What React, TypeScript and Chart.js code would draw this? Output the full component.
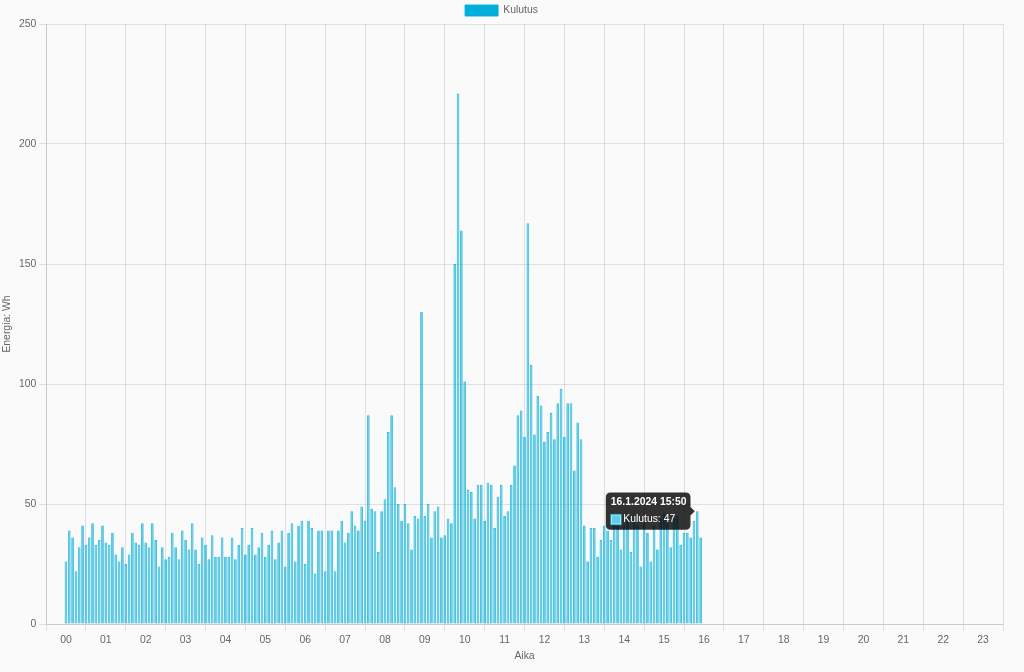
import React, { useEffect, useRef } from 'react';
import { Chart, registerables } from 'chart.js';

Chart.register(...registerables);

// ---- Data ----
const DATE_LABEL = '16.1.2024';
const SERIES_LABEL = 'Kulutus';
const Y_TITLE = 'Energia: Wh';
const X_TITLE = 'Aika';
const STEP_MINUTES = 5;
const ACTIVE_INDEX = 190; // 15:50

const hourLabels = [
  '00', '01', '02', '03', '04', '05', '06', '07', '08', '09', '10', '11',
  '12', '13', '14', '15', '16', '17', '18', '19', '20', '21', '22', '23',
];

// 5-minute consumption values (Wh) from 00:00 to 15:55
const hours00to03 = [
  26, 39, 36, 22, 32, 41, 33, 36, 42, 33, 35, 41, 34, 33, 38, 29, 26, 32, 25, 29, 38, 34,
  33, 42, 34, 32, 42, 35, 24, 32, 27, 28, 38, 32, 27, 39, 35, 31, 42, 31, 25, 36, 33,
];
const hours03to07 = [
  27, 37, 28, 28, 36, 28, 28, 36, 27, 33, 40, 29, 33, 40, 29, 32, 38, 28, 33, 39, 27,
  34, 39, 24, 38, 42, 26, 41, 43, 25, 43, 40, 21, 39, 39, 22, 39, 39, 22, 39, 43, 34,
];
const hours07to09 = [
  38, 47, 41, 39, 49, 43, 87, 48, 47, 30, 47, 52, 80, 87, 57, 50, 43, 50, 42, 31, 45, 44,
  130, 45, 50, 36, 47,
];
const hours09to10 = [49, 36, 37, 44, 42, 150, 221, 164, 101, 56, 55, 44, 58];
const hours10to13 = [
  58, 43, 59, 58, 40, 53, 58, 45, 47, 58, 66, 87, 89, 78, 167, 108, 79, 95, 91, 76, 80,
  88, 77, 92, 98, 78, 92, 92, 64, 84, 77, 41, 26, 40, 40, 28, 35,
];
const hours13to16 = [
  41, 39, 35, 44, 41, 31, 41, 45, 30, 44, 41, 24, 42, 38, 26, 41, 31, 44, 46, 42, 32, 44,
  45, 33, 38, 38, 36, 43, 47, 36,
];

const kulutus = [
  ...hours00to03, ...hours03to07, ...hours07to09, ...hours09to10, ...hours10to13, ...hours13to16,
];

const Y_MIN = 0;
const Y_MAX = 250;
const Y_STEP = 50;

// ---- Style ----
const FS = 10.4;
const TEXT = '#666';
const BAR_FILL = 'rgba(0, 174, 217, 0.62)';
const BAR_BORDER = 'rgba(0, 174, 217, 0.8)';
const LEGEND_FILL = '#00aedb';
const GRID = 'rgba(0,0,0,0.1)';

const pad2 = (n: number) => String(n).padStart(2, '0');
const timeLabel = (i: number) => {
  const m = i * STEP_MINUTES;
  return `${pad2(Math.floor(m / 60))}:${pad2(m % 60)}`;
};

export default function App() {
  const ref = useRef<HTMLCanvasElement | null>(null);

  useEffect(() => {
    document.body.style.margin = '0';
    document.body.style.background = '#fafafa';
    const canvas = ref.current;
    if (!canvas) return;

    const font = { size: FS };

    const chart = new Chart(canvas, {
      type: 'bar',
      data: {
        datasets: [
          {
            label: SERIES_LABEL,
            data: kulutus.map((v, i) => ({ x: (i * STEP_MINUTES) / 60, y: v })),
            backgroundColor: BAR_FILL,
            borderColor: BAR_BORDER,
            borderWidth: 0.9,
            categoryPercentage: 0.86,
            barPercentage: 0.95,
          },
        ],
      },
      options: {
        responsive: true,
        maintainAspectRatio: false,
        animation: false,
        events: [],
        layout: { padding: { left: 0, right: 21, top: 0, bottom: 6 } },
        plugins: {
          legend: {
            position: 'top',
            maxHeight: 24,
            labels: {
              boxWidth: 33,
              boxHeight: 11,
              padding: 5,
              font,
              color: TEXT,
              generateLabels: (c: any) =>
                (Chart.defaults.plugins.legend.labels as any)
                  .generateLabels(c)
                  .map((l: any) => ({ ...l, fillStyle: LEGEND_FILL, strokeStyle: LEGEND_FILL })),
            },
          },
          tooltip: {
            backgroundColor: 'rgba(0,0,0,0.8)',
            titleFont: { size: FS, weight: 'bold' },
            bodyFont: { size: FS },
            padding: { top: 3, bottom: 4, left: 5, right: 4 },
            titleMarginBottom: 5.2,
            caretSize: 4.3,
            caretPadding: 2.5,
            cornerRadius: 5,
            callbacks: {
              title: (items: any[]) => `${DATE_LABEL} ${timeLabel(items[0].dataIndex)}`,
            },
          },
        },
        scales: {
          x: {
            type: 'linear',
            min: -0.5,
            max: hourLabels.length - 0.5,
            offset: false,
            afterBuildTicks: (s: any) => {
              s.ticks = hourLabels.map((_, i) => ({ value: i }));
            },
            afterFit: (s: any) => {
              s.height = 42;
            },
            ticks: {
              autoSkip: false,
              maxRotation: 0,
              padding: 2.6,
              font,
              color: TEXT,
              callback: (v: any) => hourLabels[v] ?? '',
            },
            grid: { offset: true, tickLength: 7, color: GRID },
            border: { color: GRID },
            title: {
              display: true,
              text: X_TITLE,
              font,
              color: TEXT,
              padding: { top: 3.5, bottom: 3.5 },
            },
          },
          y: {
            min: Y_MIN,
            max: Y_MAX,
            afterFit: (s: any) => {
              s.width = 46;
            },
            ticks: { stepSize: Y_STEP, padding: 2.6, font, color: TEXT },
            grid: { tickLength: 7, color: GRID },
            border: { color: GRID },
            title: {
              display: true,
              text: Y_TITLE,
              font,
              color: TEXT,
              padding: { top: 0.8, bottom: 3.5 },
            },
          },
        },
      },
    } as any);

    const el = chart.getDatasetMeta(0).data[ACTIVE_INDEX] as any;
    chart.tooltip?.setActiveElements([{ datasetIndex: 0, index: ACTIVE_INDEX }], {
      x: el.x,
      y: el.y,
    });
    chart.update();

    return () => chart.destroy();
  }, []);

  return (
    <div style={{ position: 'relative', width: 1024, height: 672, background: '#fafafa' }}>
      <canvas ref={ref} />
    </div>
  );
}
